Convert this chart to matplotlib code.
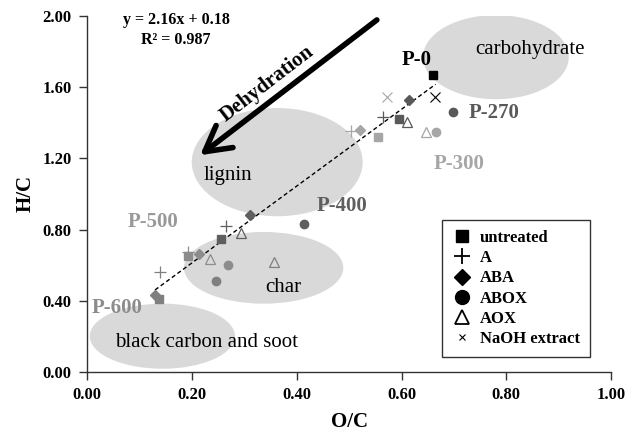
import matplotlib
matplotlib.use("Agg")
import matplotlib.pyplot as plt
from matplotlib.patches import Ellipse
from matplotlib.lines import Line2D

# --- data ------------------------------------------------------------------
samples = ["P-0", "P-270", "P-300", "P-400", "P-500", "P-600"]
sample_colors = {"P-0": "#000000", "P-270": "#595959", "P-300": "#a6a6a6",
                 "P-400": "#5f5f5f", "P-500": "#8c8c8c", "P-600": "#7f7f7f"}

untreated_s = ["P-0", "P-270", "P-300", "P-400", "P-500", "P-600"]
untreated_x = [0.661, 0.595, 0.556, 0.255, 0.192, 0.138]
untreated_y = [1.668, 1.419, 1.321, 0.749, 0.650, 0.412]

a_s = ["P-270", "P-300", "P-400", "P-500", "P-600"]
a_x = [0.564, 0.503, 0.265, 0.192, 0.139]
a_y = [1.434, 1.353, 0.820, 0.674, 0.562]

aba_s = ["P-270", "P-300", "P-400", "P-500", "P-600"]
aba_x = [0.614, 0.520, 0.311, 0.214, 0.130]
aba_y = [1.527, 1.359, 0.880, 0.661, 0.430]

abox_s = ["P-270", "P-300", "P-400", "P-500", "P-600"]
abox_x = [0.698, 0.665, 0.415, 0.270, 0.246]
abox_y = [1.458, 1.349, 0.830, 0.599, 0.511]

aox_s = ["P-270", "P-300", "P-400", "P-500", "P-600"]
aox_x = [0.611, 0.647, 0.293, 0.235, 0.356]
aox_y = [1.405, 1.346, 0.783, 0.633, 0.618]

naoh_s = ["P-300", "P-0"]
naoh_x = [0.572, 0.664]
naoh_y = [1.546, 1.546]

# linear fit y = 2.16x + 0.18
slope, intercept = 2.16, 0.18
fit_range = [0.13, 0.665]

# regions (centre x, centre y, width, height, label, label x, label y, ha)
regions = [
    (0.780, 1.769, 0.278, 0.473, "carbohydrate", 0.845, 1.814, "center"),
    (0.363, 1.179, 0.326, 0.608, "lignin", 0.222, 1.105, "left"),
    (0.337, 0.585, 0.304, 0.403, "char", 0.375, 0.477, "center"),
    (0.144, 0.201, 0.277, 0.366, "black carbon and soot", 0.053, 0.168, "left"),
]

# sample labels
label_pos = {"P-0": (0.628, 1.752), "P-270": (0.777, 1.454), "P-300": (0.709, 1.171),
             "P-400": (0.486, 0.931), "P-500": (0.127, 0.843), "P-600": (0.057, 0.361)}
label_colors = {"P-0": "#000000", "P-270": "#595959", "P-300": "#a6a6a6",
                "P-400": "#5f5f5f", "P-500": "#999999", "P-600": "#8c8c8c"}

plt.rcParams['font.family'] = ['Liberation Serif', 'DejaVu Serif']
plt.rcParams['font.weight'] = 'bold'

fig = plt.figure(figsize=(6.25, 4.33), dpi=100)
ax = fig.add_axes([0.139, 0.141, 0.839, 0.822])
ax.set_xlim(0, 1)
ax.set_ylim(0, 2)

# shaded regions
for cx, cy, w, h, name, tx, ty, ha in regions:
    ax.add_patch(Ellipse((cx, cy), w, h, facecolor="#d9d9d9", edgecolor="none", zorder=0))
    ax.text(tx, ty, name, fontsize=15, fontweight='normal', ha=ha, va='center', zorder=1)

# trend line
ax.plot(fit_range, [slope * v + intercept for v in fit_range], color='black',
        lw=1, dashes=(3, 2), zorder=2)

def draw(xs, ys, ss, marker, ms, filled=True, lw=1.0):
    for x, y, s in zip(xs, ys, ss):
        c = sample_colors[s]
        if filled:
            ax.plot(x, y, marker=marker, ms=ms, color=c, mec=c, ls='none', zorder=3)
        else:
            ax.plot(x, y, marker=marker, ms=ms, mfc='none', mec=c, mew=lw, ls='none', zorder=3)

draw(untreated_x, untreated_y, untreated_s, 's', 6)
draw(a_x, a_y, a_s, '+', 8, filled=False, lw=0.9)
draw(aba_x, aba_y, aba_s, 'D', 5)
draw(abox_x, abox_y, abox_s, 'o', 6)
draw(aox_x, aox_y, aox_s, '^', 7, filled=False, lw=0.9)
draw(naoh_x, naoh_y, naoh_s, 'x', 7, filled=False, lw=0.8)

for s in samples:
    px, py = label_pos[s]
    ax.text(px, py, s, fontsize=15, fontweight='bold', color=label_colors[s],
            ha='center', va='center', zorder=4)

# equation
ax.text(0.170, 1.980, "y = 2.16x + 0.18", fontsize=11.5, ha='center', va='center')
ax.text(0.170, 1.868, "R² = 0.987", fontsize=11.5, ha='center', va='center')

# dehydration arrow
ax.annotate("", xy=(0.216, 1.218), xytext=(0.553, 1.978),
            arrowprops=dict(arrowstyle='->, head_length=0.9, head_width=0.5',
                            lw=4, color='black', mutation_scale=20, shrinkA=0, shrinkB=0),
            zorder=4)
ax.text(0.343, 1.621, "Dehydration", fontsize=15, fontweight='bold', rotation=37.5,
        ha='center', va='center', rotation_mode='anchor', zorder=4)

# axes styling
for side in ['top', 'right']:
    ax.spines[side].set_visible(False)
for side in ['left', 'bottom']:
    ax.spines[side].set_color('#333333')
    ax.spines[side].set_linewidth(1)
ax.set_xticks([0, 0.2, 0.4, 0.6, 0.8, 1.0])
ax.set_yticks([0, 0.4, 0.8, 1.2, 1.6, 2.0])
ax.set_xticklabels([f"{v:.2f}" for v in ax.get_xticks()])
ax.set_yticklabels([f"{v:.2f}" for v in ax.get_yticks()])
ax.tick_params(direction='out', length=6, width=1, color='#333333', labelsize=12, pad=5)
ax.set_xlabel("O/C", fontsize=15, fontweight='bold', labelpad=6)
ax.set_ylabel("H/C", fontsize=15, fontweight='bold', labelpad=5)

# legend
handles = [
    Line2D([], [], marker='s', color='black', ls='none', ms=9),
    Line2D([], [], marker='+', color='black', ls='none', ms=11, mew=1.3),
    Line2D([], [], marker='D', color='black', ls='none', ms=8),
    Line2D([], [], marker='o', color='black', ls='none', ms=10),
    Line2D([], [], marker='^', mfc='none', mec='black', ls='none', ms=10, mew=1.3),
    Line2D([], [], marker='x', color='black', ls='none', ms=5, mew=0.8),
]
names = ["untreated", "A", "ABA", "ABOX", "AOX", "NaOH extract"]
leg = ax.legend(handles, names, loc='lower left', bbox_to_anchor=(0.677, 0.042),
                frameon=True, fancybox=False, edgecolor='#333333', framealpha=1,
                prop={'size': 12, 'weight': 'bold'}, handlelength=1.2,
                handletextpad=0.5, labelspacing=0.25, borderpad=0.6, borderaxespad=0)
leg.get_frame().set_linewidth(1)
leg.set_zorder(5)

fig.savefig("out.png", dpi=100)
